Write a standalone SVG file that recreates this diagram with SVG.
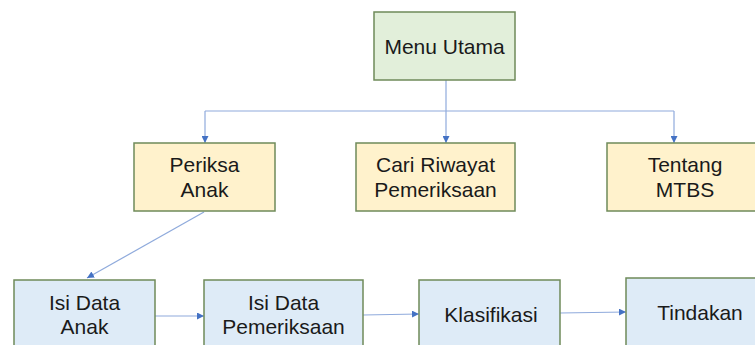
<svg xmlns="http://www.w3.org/2000/svg" width="755" height="345" viewBox="0 0 755 345">
<defs>
<marker id="arr" viewBox="0 0 10 10" refX="10" refY="5" markerWidth="7" markerHeight="7" markerUnits="userSpaceOnUse" orient="auto">
<path d="M0,0 L10,5 L0,10 z" fill="#4472C4"/>
</marker>
<style>
.box{stroke:#6f8a5a;stroke-width:1.5}
.g{fill:#e2efda}
.y{fill:#fff2cc}
.b{fill:#deebf7}
.t{font-family:"Liberation Sans",Arial,sans-serif;font-size:21px;fill:#1a1a1a;text-anchor:middle}
.c{fill:none;stroke:#8faadc;stroke-width:1.2}
.a{marker-end:url(#arr)}
</style>
</defs>
<rect width="755" height="345" fill="#ffffff"/>
<g id="connectors">
<path class="c" d="M446,80 V111"/>
<path class="c" d="M205,111 H674"/>
<path class="c a" d="M205,111 V143"/>
<path class="c a" d="M446,111 V143"/>
<path class="c a" d="M674,111 V143"/>
<path class="c a" d="M204,212 L87,278"/>
<path class="c a" d="M155,316 H204"/>
<path class="c a" d="M363,315 L419,314"/>
<path class="c a" d="M560,313 L626,312"/>
</g>
<g id="menu-utama">
<rect class="box g" x="374" y="12" width="141" height="68"/>
<text class="t" x="444.5" y="53.5">Menu Utama</text>
</g>
<g id="periksa-anak">
<rect class="box y" x="134" y="143" width="141" height="68"/>
<text class="t" x="204.5" y="172">Periksa</text>
<text class="t" x="204.5" y="197">Anak</text>
</g>
<g id="cari-riwayat">
<rect class="box y" x="356" y="143" width="159" height="68"/>
<text class="t" x="435.5" y="172">Cari Riwayat</text>
<text class="t" x="435.5" y="197">Pemeriksaan</text>
</g>
<g id="tentang-mtbs">
<rect class="box y" x="607" y="143" width="156" height="68"/>
<text class="t" x="685" y="172">Tentang</text>
<text class="t" x="685" y="197">MTBS</text>
</g>
<g id="isi-data-anak">
<rect class="box b" x="14" y="280" width="141" height="70"/>
<text class="t" x="84.5" y="310">Isi Data</text>
<text class="t" x="84.5" y="334">Anak</text>
</g>
<g id="isi-data-pemeriksaan">
<rect class="box b" x="204" y="280" width="159" height="70"/>
<text class="t" x="283.5" y="310">Isi Data</text>
<text class="t" x="283.5" y="334">Pemeriksaan</text>
</g>
<g id="klasifikasi">
<rect class="box b" x="419" y="280" width="141" height="70"/>
<text class="t" x="491" y="322">Klasifikasi</text>
</g>
<g id="tindakan">
<rect class="box b" x="626" y="278" width="148" height="72"/>
<text class="t" x="700" y="320">Tindakan</text>
</g>
</svg>
